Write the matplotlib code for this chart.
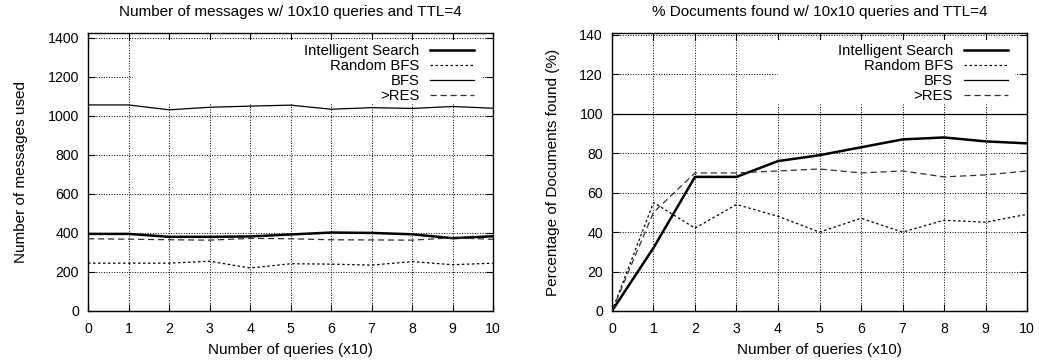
import matplotlib
matplotlib.use('Agg')
import matplotlib.pyplot as plt
from matplotlib.patches import Rectangle

plt.rcParams['font.family'] = ['Liberation Sans', 'DejaVu Sans']
plt.rcParams['font.size'] = 10.2

# Data
queries = [0, 1, 2, 3, 4, 5, 6, 7, 8, 9, 10]

msg_intelligent = [395, 395, 380, 380, 382, 392, 402, 400, 393, 373, 383]
msg_random_bfs = [245, 245, 245, 255, 220, 242, 240, 235, 253, 237, 245]
msg_bfs = [1056, 1056, 1031, 1044, 1050, 1055, 1034, 1042, 1038, 1048, 1039]
msg_res = [370, 368, 365, 363, 372, 370, 365, 364, 363, 375, 367]

doc_intelligent = [0, 32, 68, 68, 76, 79, 83, 87, 88, 86, 85]
doc_random_bfs = [0, 55, 42, 54, 48, 40, 47, 40, 46, 45, 49]
doc_bfs = [100, 100, 100, 100, 100, 100, 100, 100, 100, 100, 100]
doc_res = [0, 50, 70, 70, 71, 72, 70, 71, 68, 69, 71]

labels = ['Intelligent Search', 'Random BFS', 'BFS', '>RES']


def draw_panel(ax, series, ylim, yticks, title, ylabel, key_left):
    styles = [
        dict(color='black', lw=1.8, ls='-'),
        dict(color='black', lw=0.9, ls=(0, (2, 2))),
        dict(color='black', lw=0.9, ls='-'),
        dict(color='#333333', lw=0.9, ls=(0, (5, 3))),
    ]
    for ys, lab, st in zip(series, labels, styles):
        ax.plot(queries, ys, label=lab, zorder=3, **st)

    ax.set_xlim(0, 10)
    ax.set_ylim(*ylim)
    ax.set_xticks(queries)
    ax.set_yticks(yticks)
    ax.set_axisbelow(True)
    ax.grid(True, color='black', ls=':', lw=0.7)
    ax.tick_params(axis='x', direction='in', top=True, length=5, width=0.8, pad=8)
    ax.tick_params(axis='y', direction='in', right=True, length=5, width=0.8, pad=6.5)
    for sp in ax.spines.values():
        sp.set_linewidth(1.0)
    ax.set_title(title, fontsize=11, pad=12)
    ax.set_xlabel('Number of queries (x10)', fontsize=11, labelpad=5)
    ax.set_ylabel(ylabel, fontsize=11, labelpad=14)

    # white key box hides the grid behind it (gnuplot style)
    ax.add_patch(Rectangle((key_left, 0.748), 0.97 - key_left, 0.227,
                           transform=ax.transAxes, facecolor='white',
                           edgecolor='none', zorder=1))

    ax.legend(loc='upper right', bbox_to_anchor=(0.966, 0.98),
              borderaxespad=0, markerfirst=False, frameon=False,
              handlelength=2.95, labelspacing=0.08, borderpad=0.35,
              fontsize=10.7, handletextpad=0.75)


fig = plt.figure(figsize=(10.39, 3.62), dpi=100)
ax1 = fig.add_axes([0.0847, 0.141, 0.390, 0.768])
ax2 = fig.add_axes([0.589, 0.141, 0.3995, 0.768])

draw_panel(ax1, [msg_intelligent, msg_random_bfs, msg_bfs, msg_res],
           (0, 1425), range(0, 1401, 200),
           'Number of messages w/ 10x10 queries and TTL=4',
           'Number of messages used', 0.11)
draw_panel(ax2, [doc_intelligent, doc_random_bfs, doc_bfs, doc_res],
           (0, 141), range(0, 141, 20),
           '% Documents found w/ 10x10 queries and TTL=4',
           'Percentage of Documents found (%)', 0.40)

fig.savefig('out.png', dpi=100)
